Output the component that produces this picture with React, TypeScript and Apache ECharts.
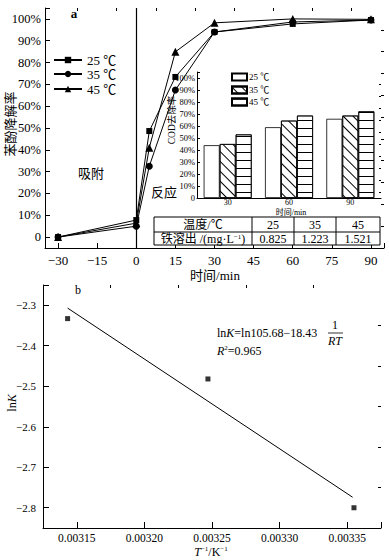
import React, { useEffect, useRef } from 'react';
import * as echarts from 'echarts';

// ---------- Data ----------
const timeMin = [-30, 0, 5, 15, 30, 60, 90];
const removal25 = [0, 7.8, 48.6, 73.4, 94, 97.7, 99.5];
const removal35 = [0, 5, 32.5, 67.4, 94, 98.6, 99.5];
const removal45 = [0, 6.4, 41, 84.9, 98.2, 100, 99.8];
const tempNames = ['25 ℃', '35 ℃', '45 ℃'];

const codCategories = ['30', '60', '90'];
const cod25 = [44, 59, 66];
const cod35 = [45, 64.5, 68.7];
const cod45 = [53, 68.7, 72.2];

const tableTemps = ['25', '35', '45'];
const ironRelease = ['0.825', '1.223', '1.521'];

const invT = [0.0031432, 0.003247, 0.003355];
const lnK = [-2.333, -2.482, -2.8];
const fitInvT = [0.0031432, 0.003354];
const fitLnK = [-2.307, -2.774];

// tick values
const aXTicks = [-30, -15, 0, 15, 30, 45, 60, 75, 90];
const aXMinor = [-22.5, -7.5, 7.5, 22.5, 37.5, 52.5, 67.5, 82.5];
const aYTicks = [0, 10, 20, 30, 40, 50, 60, 70, 80, 90, 100];
const aYMinor = [5, 15, 25, 35, 45, 55, 65, 75, 85, 95];
const bXTicks = [0.00315, 0.0032, 0.00325, 0.0033, 0.00335];
const bXMinor = [0.003175, 0.003225, 0.003275, 0.003325];
const bYTicks = [-2.8, -2.7, -2.6, -2.5, -2.4, -2.3];
const bYMinor = [-2.75, -2.65, -2.55, -2.45, -2.35];

const SERIF = '"Liberation Serif", "Times New Roman", "Noto Sans CJK SC", serif';
const BLACK = '#000';

const minus = (s: string) => s.replace('-', '\u2212');

function majorAxis(extra: any) {
  return {
    type: 'value',
    axisLine: { show: true, onZero: false, lineStyle: { color: BLACK, width: 1 } },
    splitLine: { show: false },
    ...extra,
  };
}

function minorAxis(gridIndex: number, min: number, max: number, values: number[], len: number) {
  return {
    type: 'value',
    gridIndex,
    min,
    max,
    axisLine: { show: false, onZero: false },
    splitLine: { show: false },
    axisLabel: { show: false },
    axisTick: { show: true, inside: true, length: len, customValues: values, lineStyle: { color: BLACK, width: 1 } },
  };
}

export default function App() {
  const ref = useRef<HTMLDivElement>(null);

  useEffect(() => {
    const chart = echarts.init(ref.current!, null, { renderer: 'svg' });

    const hatchDiag = {
      symbol: 'rect',
      symbolSize: 1,
      dashArrayX: [1, 0],
      dashArrayY: [1, 6],
      rotation: Math.PI / 4,
      color: BLACK,
      backgroundColor: '#fff',
    };
    const hatchHoriz = {
      symbol: 'rect',
      symbolSize: 1,
      dashArrayX: [1, 0],
      dashArrayY: [1, 7],
      rotation: 0,
      color: BLACK,
      backgroundColor: '#fff',
    };

    const lineSeries = (name: string, vals: number[], symbol: string, size: number, extra: any = {}) => ({
      type: 'line',
      name,
      xAxisIndex: 0,
      yAxisIndex: 0,
      data: timeMin.map((t, i) => [t, vals[i]]),
      symbol,
      symbolSize: size,
      showAllSymbol: true,
      itemStyle: { color: BLACK },
      lineStyle: { color: BLACK, width: 1 },
      z: 3,
      ...extra,
    });

    const barSeries = (name: string, vals: number[], decal: any) => ({
      type: 'bar',
      name,
      xAxisIndex: 2,
      yAxisIndex: 2,
      data: vals,
      barWidth: 16,
      barGap: '0%',
      itemStyle: { color: '#fff', borderColor: BLACK, borderWidth: 0.8, decal },
    });

    const txt = (text: string, x: number, y: number, size: number, extra: any = {}, styleExtra: any = {}) => ({
      type: 'text',
      x,
      y,
      ...extra,
      style: {
        text,
        fontSize: size,
        fontFamily: SERIF,
        fill: BLACK,
        align: 'center',
        verticalAlign: 'middle',
        ...styleExtra,
      },
    });

    const tableLeft = 154, tableTop = 217, tableMid = 232, tableBottom = 245, tableRight = 380;
    const colX = [252, 294, 336];
    const colCenters = [273, 315, 358];

    const lineLegendTops = [53, 67, 82];
    const barLegendTops = [72, 85, 97];

    const option: any = {
      animation: false,
      backgroundColor: '#fff',
      textStyle: { fontFamily: SERIF, color: BLACK },
      grid: [
        { left: 45, top: 8, width: 339, height: 240 },
        { left: 197, top: 72, width: 184, height: 126 },
        { left: 43, top: 285, width: 338, height: 243 },
      ],
      legend: [
        ...tempNames.map((n, i) => ({
          data: [n],
          left: 53,
          top: lineLegendTops[i],
          padding: 0,
          itemWidth: 28,
          itemHeight: 8,
          itemGap: 0,
          selectedMode: false,
          textStyle: { fontFamily: SERIF, fontSize: 13, color: BLACK, lineHeight: 14 },
        })),
        ...tempNames.map((n, i) => ({
          data: [n + ' '],
          left: 231,
          top: barLegendTops[i],
          padding: 0,
          itemWidth: 15,
          itemHeight: 7,
          itemGap: 0,
          icon: 'rect',
          selectedMode: false,
          textStyle: { fontFamily: SERIF, fontSize: 9, color: BLACK, lineHeight: 10, padding: [0, 0, 0, -3] },
        })),
      ],
      xAxis: [
        majorAxis({
          gridIndex: 0,
          min: -35,
          max: 95,
          axisTick: { show: true, inside: true, length: 5, customValues: [...aXTicks, 95], lineStyle: { color: BLACK } },
          axisLabel: {
            customValues: aXTicks,
            formatter: (v: number) => minus(String(v)),
            fontSize: 13,
            fontFamily: SERIF,
            color: BLACK,
            margin: 6,
          },
        }),
        minorAxis(0, -35, 95, aXMinor, 3),
        {
          type: 'category',
          gridIndex: 1,
          data: codCategories,
          axisLine: { show: true, lineStyle: { color: BLACK, width: 1 } },
          axisTick: { show: false },
          axisLabel: { fontSize: 8, fontFamily: SERIF, color: BLACK, margin: 0, lineHeight: 8 },
          splitLine: { show: false },
        },
        majorAxis({
          gridIndex: 2,
          min: 0.003125,
          max: 0.003375,
          axisTick: { show: true, inside: true, length: 6, customValues: [...bXTicks, 0.003375], lineStyle: { color: BLACK } },
          axisLabel: {
            customValues: bXTicks,
            formatter: (v: number) => v.toFixed(5),
            fontSize: 11.5,
            fontFamily: SERIF,
            color: BLACK,
            margin: 4,
          },
        }),
        minorAxis(2, 0.003125, 0.003375, bXMinor, 3),
      ],
      yAxis: [
        majorAxis({
          gridIndex: 0,
          min: -5,
          max: 105,
          axisTick: { show: true, inside: true, length: 5, customValues: [...aYTicks, 105], lineStyle: { color: BLACK } },
          axisLabel: {
            customValues: aYTicks,
            formatter: (v: number) => (v === 0 ? '0' : v + '%'),
            fontSize: 12.5,
            fontFamily: SERIF,
            color: BLACK,
            margin: 4,
          },
        }),
        minorAxis(0, -5, 105, aYMinor, 3),
        majorAxis({
          gridIndex: 1,
          min: 0,
          max: 105,
          axisTick: { show: true, inside: true, length: 3, customValues: [...aYTicks, 105], lineStyle: { color: BLACK } },
          axisLabel: {
            customValues: aYTicks,
            formatter: (v: number) => (v === 0 ? '0' : v + '%'),
            fontSize: 8.5,
            fontFamily: SERIF,
            color: BLACK,
            margin: 2,
          },
        }),
        minorAxis(1, 0, 105, aYMinor, 2),
        majorAxis({
          gridIndex: 2,
          min: -2.85,
          max: -2.25,
          axisTick: { show: true, inside: true, length: 6, customValues: [...bYTicks, -2.25], lineStyle: { color: BLACK } },
          axisLabel: {
            customValues: bYTicks,
            formatter: (v: number) => minus(v.toFixed(1)),
            fontSize: 11,
            fontFamily: SERIF,
            color: BLACK,
            margin: 7,
          },
        }),
        minorAxis(2, -2.85, -2.25, bYMinor, 3),
      ],
      series: [
        lineSeries(tempNames[0], removal25, 'rect', 6, {
          markLine: {
            silent: true,
            symbol: 'none',
            label: { show: false },
            lineStyle: { color: BLACK, width: 1.2, type: 'solid' },
            data: [{ xAxis: 0 }],
          },
        }),
        lineSeries(tempNames[1], removal35, 'circle', 7),
        lineSeries(tempNames[2], removal45, 'triangle', 8),
        barSeries(tempNames[0] + ' ', cod25, undefined),
        barSeries(tempNames[1] + ' ', cod35, hatchDiag),
        barSeries(tempNames[2] + ' ', cod45, hatchHoriz),
        {
          type: 'scatter',
          name: 'lnK',
          xAxisIndex: 3,
          yAxisIndex: 4,
          data: invT.map((x, i) => [x, lnK[i]]),
          symbol: 'rect',
          symbolSize: 5,
          itemStyle: { color: BLACK },
        },
        {
          type: 'line',
          name: 'fit',
          xAxisIndex: 3,
          yAxisIndex: 4,
          data: fitInvT.map((x, i) => [x, fitLnK[i]]),
          symbol: 'none',
          lineStyle: { color: BLACK, width: 1 },
        },
      ],
      graphic: [
        txt('a', 74, 13, 13, {}, { fontWeight: 'bold' }),
        txt('吸附', 91, 173, 13),
        txt('反应', 164, 192, 13),
        txt('苯酚降解率', 10, 124, 13, { rotation: Math.PI / 2 }),
        txt('COD去除率', 172, 120, 9.5, { rotation: Math.PI / 2 }),
        txt('时间/min', 291, 212.8, 8, {}, { lineHeight: 8 }),
        txt('时间/min', 215, 275, 13),
        // table
        {
          type: 'rect',
          shape: { x: tableLeft, y: tableTop, width: tableRight - tableLeft, height: tableBottom - tableTop },
          style: { fill: '#fff', stroke: BLACK, lineWidth: 1 },
          z: 10,
        },
        {
          type: 'line',
          shape: { x1: tableLeft, y1: tableMid, x2: tableRight, y2: tableMid },
          style: { stroke: BLACK, lineWidth: 1 },
          z: 11,
        },
        ...colX.map((x) => ({
          type: 'line',
          shape: { x1: x, y1: tableTop, x2: x, y2: tableBottom },
          style: { stroke: BLACK, lineWidth: 1 },
          z: 11,
        })),
        { ...txt('温度/℃', 203, 225, 12, {}, { lineHeight: 13 }), z: 12 },
        {
          ...txt('', 203, 239, 12, {}, {
            text: '{n|铁溶出 /(mg·L}{s|−1}{n|)}',
            rich: {
              n: { fontSize: 12, fontFamily: SERIF, fill: BLACK },
              s: { fontSize: 7, fontFamily: SERIF, fill: BLACK, verticalAlign: 'top', padding: [0, 0, 5, 0] },
            },
          }),
          z: 12,
        },
        ...tableTemps.map((t, i) => ({ ...txt(t, colCenters[i], 225, 12, {}, { lineHeight: 13 }), z: 12 })),
        ...ironRelease.map((t, i) => ({ ...txt(t, colCenters[i], 239, 12, {}, { lineHeight: 13 }), z: 12 })),
        // chart b
        txt('b', 78, 290, 12),
        txt('', 12, 403, 12, { rotation: Math.PI / 2 }, {
          text: '{n|ln}{i|K}',
          rich: {
            n: { fontSize: 12, fontFamily: SERIF, fill: BLACK },
            i: { fontSize: 12, fontFamily: SERIF, fontStyle: 'italic', fill: BLACK },
          },
        }),
        txt('', 211, 552, 12, {}, {
          text: '{i|T}{s|−1}{n|/K}{s|−1}',
          rich: {
            n: { fontSize: 12, fontFamily: SERIF, fill: BLACK },
            i: { fontSize: 12, fontFamily: SERIF, fontStyle: 'italic', fill: BLACK },
            s: { fontSize: 7, fontFamily: SERIF, fill: BLACK, padding: [0, 0, 6, 0] },
          },
        }),
        txt('', 217, 333, 12, {}, {
          align: 'left',
          text: '{n|ln}{i|K}{n|=ln105.68−18.43}',
          rich: {
            n: { fontSize: 12, fontFamily: SERIF, fill: BLACK },
            i: { fontSize: 12, fontFamily: SERIF, fontStyle: 'italic', fill: BLACK },
          },
        }),
        txt('1', 335, 325, 12),
        {
          type: 'line',
          shape: { x1: 328, y1: 333, x2: 343, y2: 333 },
          style: { stroke: BLACK, lineWidth: 0.8 },
        },
        txt('RT', 335, 341, 12, {}, { fontStyle: 'italic' }),
        txt('', 217, 351, 12, {}, {
          align: 'left',
          text: '{i|R}{s|2}{n|=0.965}',
          rich: {
            n: { fontSize: 12, fontFamily: SERIF, fill: BLACK },
            i: { fontSize: 12, fontFamily: SERIF, fontStyle: 'italic', fill: BLACK },
            s: { fontSize: 7, fontFamily: SERIF, fill: BLACK, padding: [0, 0, 6, 0] },
          },
        }),
      ],
    };

    chart.setOption(option);
    return () => chart.dispose();
  }, []);

  return (
    <div
      ref={ref}
      style={{ position: 'absolute', left: 0, top: 0, width: 389, height: 560, background: '#fff' }}
    />
  );
}
